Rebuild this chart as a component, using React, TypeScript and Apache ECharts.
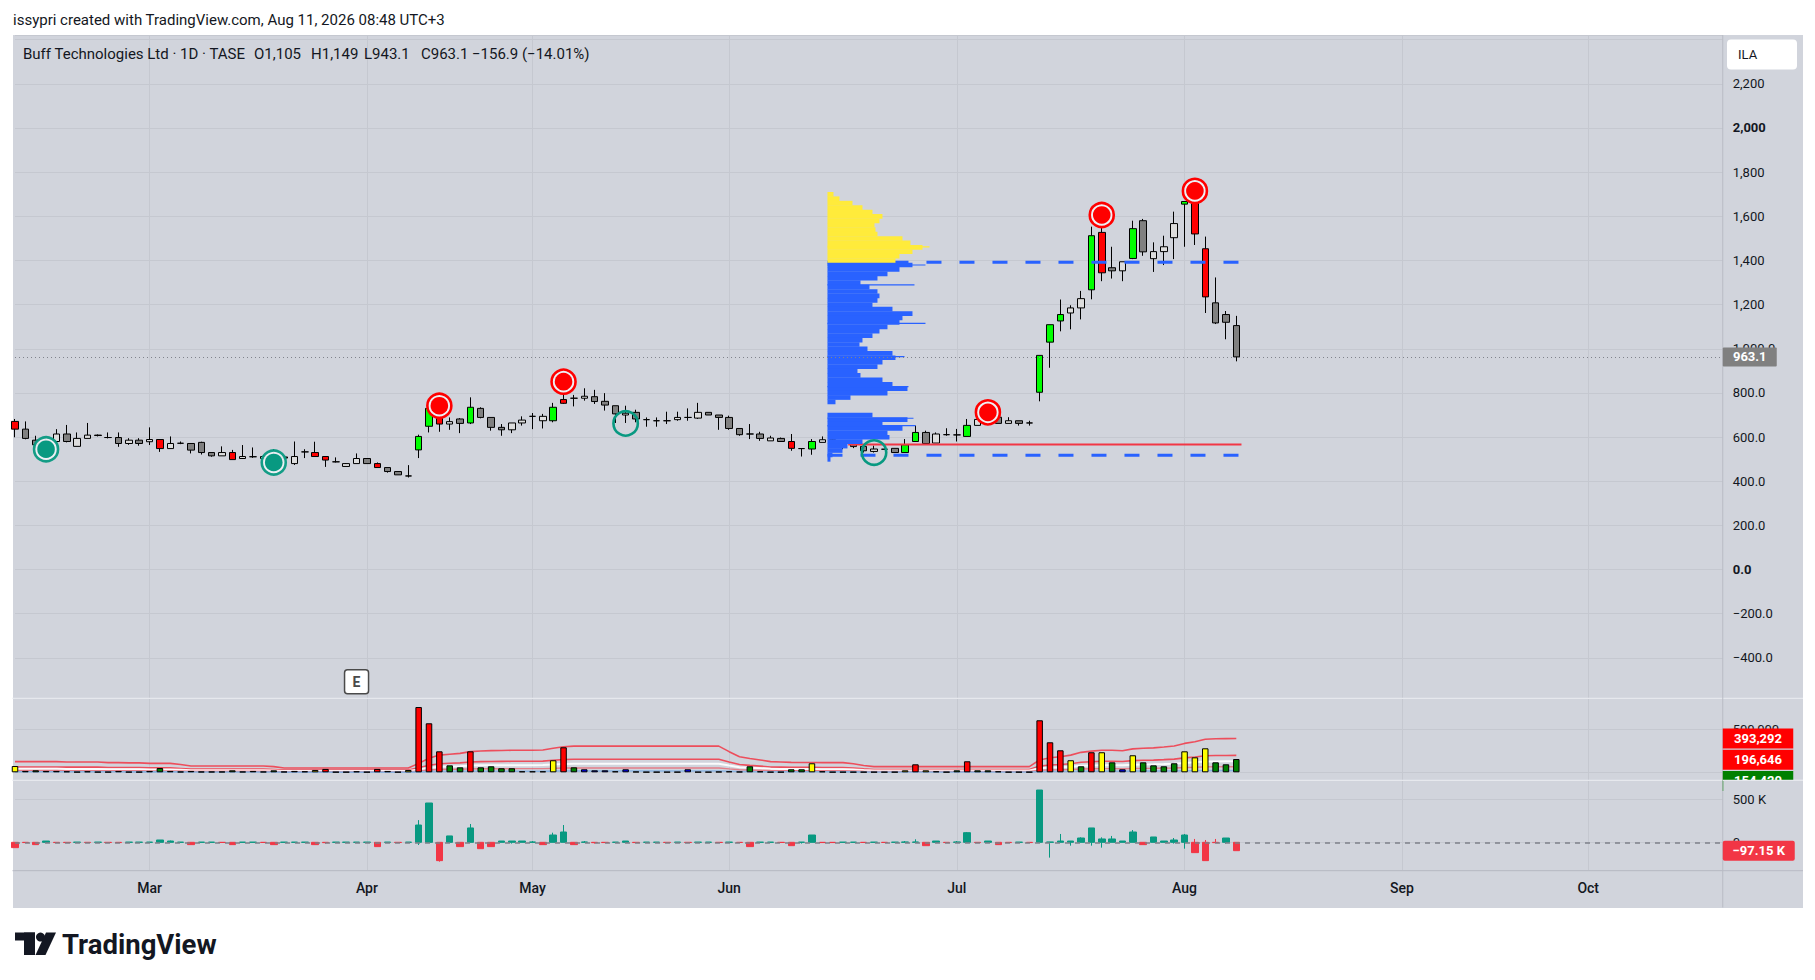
import React, { useEffect, useRef } from 'react';
import * as echarts from 'echarts';

// ---------------- DATA ----------------
const SLOT_COUNT = 166; // trading-day slots on the time axis (data + future space)
const categories = Array.from({ length: SLOT_COUNT }, (_, i) => String(i));
const monthTicks: [number, string][] = [
  [13, 'Mar'], [34, 'Apr'], [50, 'May'], [69, 'Jun'],
  [91, 'Jul'], [113, 'Aug'], [134, 'Sep'], [152, 'Oct'],
];

// daily candles [open, high, low, close]
const ohlc: number[][] = [
  [671, 682, 599, 636], [636, 671, 590, 594], [586, 606, 550, 565], [553, 598, 523, 583], [580, 636, 576, 614],
  [614, 655, 576, 580], [558, 621, 558, 594], [594, 664, 594, 609], [609, 612, 603, 607], [598, 621, 594, 598],
  [598, 621, 556, 571], [571, 595, 565, 586], [586, 595, 561, 571], [579, 644, 564, 589], [589, 589, 533, 548],
  [548, 603, 548, 571], [572, 580, 568, 572], [571, 571, 526, 541], [576, 579, 521, 530], [530, 530, 511, 515],
  [515, 558, 515, 530], [530, 542, 498, 498], [503, 564, 503, 512], [511, 553, 506, 511], [503, 518, 500, 512],
  [512, 545, 482, 500], [510, 512, 490, 505], [480, 580, 474, 512], [533, 545, 505, 533], [530, 579, 512, 512],
  [512, 512, 465, 496], [488, 508, 485, 488], [467, 482, 467, 480], [480, 526, 480, 503], [503, 503, 480, 480],
  [480, 485, 462, 462], [462, 462, 439, 444], [444, 444, 429, 429], [424, 473, 417, 424], [542, 611, 505, 603],
  [649, 742, 621, 730], [727, 765, 624, 659], [659, 689, 633, 670], [682, 686, 618, 662], [664, 780, 659, 735],
  [730, 735, 685, 689], [689, 689, 629, 644], [644, 659, 606, 633], [633, 664, 618, 664], [664, 694, 652, 677],
  [694, 709, 636, 694], [674, 705, 639, 694], [674, 755, 667, 735], [770, 810, 750, 753], [776, 791, 739, 776],
  [776, 821, 765, 785], [783, 814, 750, 761], [762, 799, 720, 745], [742, 742, 664, 705], [700, 742, 664, 708],
  [712, 724, 667, 682], [679, 689, 647, 679], [674, 689, 647, 674], [674, 715, 659, 674], [679, 715, 674, 689],
  [689, 730, 674, 689], [686, 755, 682, 712], [712, 712, 700, 700], [700, 700, 633, 689], [689, 697, 633, 639],
  [639, 639, 606, 611], [614, 659, 591, 614], [614, 624, 583, 594], [583, 606, 583, 596], [594, 598, 579, 580],
  [580, 614, 538, 549], [548, 550, 512, 548], [546, 591, 520, 580], [576, 603, 576, 588], [588, 598, 570, 580],
  [575, 580, 545, 555], [557, 576, 550, 564], [558, 560, 530, 538], [535, 561, 530, 546], [545, 548, 543, 545],
  [549, 549, 530, 530], [530, 591, 530, 565], [580, 652, 580, 621], [621, 629, 571, 571], [573, 621, 573, 614],
  [611, 640, 606, 611], [610, 637, 580, 610], [603, 682, 603, 653], [653, 705, 653, 680], [680, 725, 675, 700],
  [690, 690, 662, 662], [662, 690, 662, 674], [674, 674, 652, 662], [664, 674, 652, 664], [803, 970, 762, 970],
  [1030, 1109, 914, 1109], [1126, 1223, 1079, 1155], [1162, 1197, 1088, 1185], [1185, 1262, 1133, 1227], [1267, 1553, 1224, 1512],
  [1527, 1560, 1306, 1344], [1367, 1462, 1318, 1353], [1353, 1394, 1306, 1394], [1409, 1580, 1406, 1544], [1580, 1588, 1421, 1439],
  [1408, 1482, 1348, 1440], [1440, 1512, 1379, 1462], [1503, 1621, 1406, 1567], [1655, 1667, 1462, 1667], [1667, 1697, 1470, 1520],
  [1453, 1508, 1162, 1235], [1208, 1323, 1112, 1117], [1155, 1171, 1043, 1120], [1105, 1149, 943.1, 963.1],
];
// candle class: L = up, D = down, G = up on heavy volume, R = down on heavy volume
const candleClass: string[] = [
  'R', 'D', 'D', 'L', 'L', 'D', 'L', 'L', 'D', 'D',
  'D', 'L', 'D', 'L', 'R', 'L', 'D', 'D', 'D', 'D',
  'L', 'R', 'L', 'D', 'L', 'D', 'D', 'L', 'D', 'R',
  'R', 'D', 'L', 'L', 'D', 'R', 'D', 'D', 'D', 'G',
  'G', 'R', 'L', 'D', 'G', 'D', 'D', 'D', 'L', 'L',
  'D', 'L', 'G', 'R', 'D', 'L', 'D', 'D', 'D', 'L',
  'D', 'D', 'D', 'D', 'L', 'D', 'L', 'D', 'D', 'D',
  'D', 'D', 'D', 'L', 'D', 'R', 'D', 'G', 'L', 'D',
  'D', 'L', 'D', 'L', 'D', 'D', 'G', 'G', 'D', 'L',
  'D', 'D', 'G', 'L', 'L', 'D', 'L', 'D', 'D', 'G',
  'G', 'G', 'L', 'L', 'G', 'R', 'D', 'L', 'G', 'D',
  'L', 'L', 'L', 'G', 'R', 'R', 'D', 'D', 'D',
];

// volume in thousands, with heat class r/y/g/b/k
const volumeK: number[] = [
  73, 16, 23, 16, 16, 12, 5, 12, 5, 5,
  16, 5, 5, 16, 50, 16, 8, 16, 8, 8,
  8, 23, 8, 16, 8, 23, 8, 16, 12, 27,
  39, 4, 4, 12, 4, 39, 16, 4, 27, 759,
  570, 244, 81, 58, 244, 58, 70, 47, 47, 12,
  12, 12, 140, 291, 58, 35, 23, 23, 12, 35,
  8, 4, 4, 4, 4, 35, 4, 4, 8, 12,
  8, 70, 12, 4, 4, 35, 35, 105, 12, 4,
  4, 4, 4, 4, 4, 4, 23, 93, 23, 12,
  4, 23, 128, 23, 23, 12, 4, 4, 4, 605,
  349, 256, 140, 70, 233, 233, 116, 35, 198, 116,
  81, 70, 105, 244, 174, 279, 116, 93, 154.42,
];
const volumeClass: string[] = [
  'y', 'k', 'g', 'k', 'k', 'k', 'k', 'k', 'k', 'k',
  'k', 'k', 'k', 'k', 'g', 'k', 'k', 'k', 'k', 'k',
  'k', 'g', 'k', 'k', 'k', 'g', 'k', 'k', 'k', 'y',
  'r', 'k', 'k', 'k', 'k', 'r', 'k', 'k', 'y', 'r',
  'r', 'r', 'g', 'g', 'r', 'g', 'g', 'g', 'g', 'k',
  'k', 'k', 'y', 'r', 'g', 'b', 'b', 'b', 'k', 'b',
  'k', 'k', 'k', 'k', 'k', 'b', 'k', 'k', 'k', 'k',
  'k', 'g', 'k', 'k', 'k', 'g', 'g', 'y', 'k', 'k',
  'k', 'k', 'k', 'k', 'k', 'k', 'y', 'r', 'y', 'k',
  'k', 'g', 'r', 'g', 'g', 'k', 'k', 'k', 'k', 'r',
  'r', 'r', 'y', 'g', 'r', 'y', 'g', 'b', 'y', 'g',
  'g', 'g', 'g', 'y', 'y', 'y', 'g', 'g', 'g',
];
// volume moving average (thousands)
const volumeMAK: number[] = [
  62, 62, 62, 62, 62, 60, 60, 60, 60, 56,
  56, 55, 55, 52, 52, 52, 45, 37, 37, 37,
  37, 37, 37, 37, 37, 33, 25, 25, 25, 25,
  25, 25, 25, 25, 25, 25, 25, 25, 25, 52,
  82, 100, 105, 110, 120, 124, 126, 127, 128, 128,
  128, 130, 140, 149, 152, 152, 152, 152, 152, 152,
  152, 152, 152, 152, 152, 152, 152, 152, 152, 120,
  90, 80, 72, 62, 60, 58, 57, 57, 56, 56,
  56, 50, 40, 33, 33, 33, 33, 33, 33, 33,
  33, 33, 33, 33, 33, 33, 33, 33, 33, 72,
  85, 90, 100, 116, 123, 128, 128, 125, 136, 140,
  142, 147, 153, 168, 178, 192, 195, 196, 196.646,
];
const volumeBandMultipliers = [2, 1, 0.65, 0.33, 0.1];

// volume delta (thousands) and wick extremes [low, high] where they extend past the body
const deltaK: number[] = [
  -62, -3, -27, 15, -3, -3, 2, -2, 2, -2,
  -3, 2, 2, 2, 27, 15, 2, -27, 2, 2,
  -2, -27, 2, 2, -2, -27, 2, 2, 2, -27,
  -4, 2, 2, 2, 2, -50, 2, -2, 2, 201,
  457, -213, 74, -50, 167, -74, -50, 15, 15, 15,
  4, -27, 85, 120, -27, 4, -4, -3, 2, 15,
  -3, 2, 2, -2, 2, -2, 2, 2, -2, 2,
  -2, -50, 2, 2, -2, -39, 2, 85, -3, -3,
  2, 2, -2, 2, -2, 2, 4, 4, -39, 15,
  -3, 4, 112, -3, 15, -27, -3, 2, -3, 608,
  4, 15, 15, 50, 167, 39, 39, 15, 120, -27,
  62, 15, 27, 85, -120, -213, -4, 50, -97.15,
];
const deltaWickK: Record<number, [number, number]> = {
  15: [0, 20], 30: [-15, 0], 39: [-31, 258], 41: [-225, 0], 44: [0, 213], 48: [-15, 15], 50: [0, 15],
  52: [0, 112], 53: [0, 201], 55: [0, 15], 56: [-15, 0], 76: [-15, 2], 86: [0, 15], 87: [0, 35],
  91: [0, 15], 92: [0, 120], 100: [-178, 4], 101: [0, 97], 102: [-39, 15], 103: [0, 58], 104: [-39, 167],
  105: [-62, 58], 106: [0, 74], 108: [0, 143], 112: [-15, 50], 113: [-74, 97], 114: [0, 39], 115: [0, 27],
  116: [-4, 39], 117: [-15, 50],
};

// pivot markers [index, price]
const pivotHighs: number[][] = [[41, 742], [53, 851], [94, 712], [105, 1606], [114, 1715]];
const pivotLowsFilled: number[][] = [[3, 545], [25, 485]];
const pivotLowsHollow: number[][] = [[59, 662], [83, 530]];
const earningsIndex = 33;

// fixed-range volume profile: bins of 20 from top (low edge = 1690 - 20*i), relative volume
const profileTop = 1690;
const profileStep = 20;
const profileVolume: number[] = [
  6, 12, 25, 35, 45, 55, 52, 47, 48, 50,
  75, 83, 95, 85, 72, 68, 85, 72, 60, 50,
  33, 42, 50, 52, 50, 45, 65, 85, 75, 72,
  60, 52, 45, 35, 32, 40, 65, 68, 55, 50,
  30, 33, 55, 65, 80, 60, 23, 8, 0, 0,
  45, 80, 55, 75, 60, 62, 35, 20, 15, 5, 3,
];
const profileSpikes: number[][] = [[1462, 102], [1380, 98], [1290, 87], [1116, 98], [965, 77], [829, 81], [686, 86], [653, 88]];
const profileStartIndex = 78.5;
const profileEndIndex = 118.5;
const valueAreaHigh = 1392;
const valueAreaLow = 518;
const redLevel = 566;
const redLevelStart = 80.5;

// ---------------- STYLE ----------------
const FONT = 'Roboto, "Noto Sans", "DejaVu Sans", sans-serif';
const TEXT = '#131722';
const BG = '#d1d4dc';
const GRID_LINE = '#c5c8d0';
const SEP_LIGHT = '#e6e8ed';
const AXIS_SEP = '#b8bbc4';
const CANDLE_FILL: Record<string, string> = { L: '#dddddd', D: '#808080', G: '#00ff00', R: '#ff0000' };
const VOL_FILL: Record<string, string> = { r: '#ff0000', y: '#ffff00', g: '#008000', b: '#0000ff', k: '#000000' };
const TEAL = '#089981';
const DELTA_RED = '#f23645';
const PROFILE_BLUE = '#2962ff';
const PROFILE_YELLOW = '#ffeb3b';
const PIVOT_RED = '#ff0000';

const PLOT_LEFT = 15;
const PLOT_W = 1707.75;
const AXIS_X = PLOT_LEFT + PLOT_W;
const FRAME_RIGHT = 1803;
const MAIN_TOP = 35;
const MAIN_H = 663.3;
const VOL_TOP = MAIN_TOP + MAIN_H;
const VOL_H = 82;
const DELTA_TOP = VOL_TOP + VOL_H;
const DELTA_H = 90.4;
const TIME_TOP = DELTA_TOP + DELTA_H;
const FRAME_BOTTOM = 907.5;
const PRICE_MIN = -583;
const PRICE_MAX = 2421;

const monthMap = new Map<number, string>(monthTicks);
const MINUS = '\u2212';

const priceFmt = (v: number) => {
  if (v > 2300) return '';
  let s: string;
  if (Math.abs(v) > 1000) s = Math.abs(v).toLocaleString('en-US');
  else if (Math.abs(v) === 1000) s = '1,000.0';
  else s = Math.abs(v).toFixed(1);
  if (v < 0) s = MINUS + s;
  if (v === 2000 || v === 0) return '{b|' + s + '}';
  return s;
};

const fmtInt = (v: number) => Math.round(v).toLocaleString('en-US');

function buildOption(): any {
  const catAxis = (gridIndex: number, showLabels: boolean) => ({
    type: 'category',
    gridIndex,
    data: categories,
    boundaryGap: false,
    axisLine: { show: false },
    axisTick: { show: false },
    axisPointer: { show: false },
    axisLabel: showLabels
      ? {
          show: true,
          interval: (i: number) => monthMap.has(i),
          formatter: (v: string) => monthMap.get(Number(v)) ?? '',
          color: TEXT,
          fontSize: 14,
          fontWeight: 500,
          fontFamily: FONT,
          margin: 10,
        }
      : { show: false },
    splitLine: {
      show: true,
      interval: (i: number) => monthMap.has(i),
      lineStyle: { color: GRID_LINE, width: 1 },
    },
  });

  const candleData = ohlc.map(([o, h, l, c], i) => {
    const fill = CANDLE_FILL[candleClass[i]];
    return {
      value: [o, c, l, h],
      itemStyle: { color: fill, color0: fill, borderColor: '#000', borderColor0: '#000', borderColorDoji: '#000', borderWidth: 1 },
    };
  });

  const volumeData = volumeK.map((v, i) => ({
    value: v * 1000,
    itemStyle: { color: VOL_FILL[volumeClass[i]] },
  }));

  const deltaData = deltaK.map((d, i) => {
    const w = deltaWickK[i] ?? [0, 0];
    const lo = Math.min(0, d, w[0]) * 1000;
    const hi = Math.max(0, d, w[1]) * 1000;
    const col = d >= 0 ? TEAL : DELTA_RED;
    return {
      value: [0, d * 1000, lo, hi],
      itemStyle: { color: col, color0: col, borderColor: col, borderColor0: col, borderColorDoji: col, borderWidth: 1 },
    };
  });

  const bandStyles = [
    { color: 'rgba(242,54,69,0.85)', width: 1.6 },
    { color: 'rgba(242,54,69,0.85)', width: 1.6 },
    { color: 'rgba(255,255,255,0.9)', width: 2 },
    { color: 'rgba(242,54,69,0.55)', width: 1.4 },
    { color: 'rgba(130,175,225,0.9)', width: 1.6 },
  ];
  const bandSeries = volumeBandMultipliers.map((m, k) => ({
    type: 'line',
    xAxisIndex: 1,
    yAxisIndex: 1,
    data: volumeMAK.map((v) => v * 1000 * m),
    symbol: 'none',
    lineStyle: bandStyles[k],
    z: 1,
    silent: true,
  }));

  const profileData: number[][] = profileVolume.map((v, i) => {
    const low = profileTop - profileStep * i;
    return [low, low + profileStep, v];
  });
  profileSpikes.forEach(([p, v]) => profileData.push([p - 2, p + 2, v]));

  const pivotRender = (kind: string) => (params: any, api: any) => {
    const p = api.coord([api.value(0), api.value(1)]);
    if (kind === 'hollow') {
      return { type: 'circle', shape: { cx: p[0], cy: p[1], r: 12.2 }, style: { fill: 'none', stroke: TEAL, lineWidth: 2.6 } };
    }
    const col = kind === 'high' ? PIVOT_RED : TEAL;
    return {
      type: 'group',
      children: [
        { type: 'circle', shape: { cx: p[0], cy: p[1], r: 12 }, style: { fill: '#eef0f4', stroke: col, lineWidth: 2.6, opacity: kind === 'high' ? 1 : 0.95 } },
        { type: 'circle', shape: { cx: p[0], cy: p[1], r: 8.8 }, style: { fill: col } },
      ],
    };
  };

  return {
    animation: false,
    backgroundColor: 'transparent',
    textStyle: { fontFamily: FONT },
    grid: [
      { left: PLOT_LEFT, top: MAIN_TOP, width: PLOT_W, height: MAIN_H },
      { left: PLOT_LEFT, top: VOL_TOP, width: PLOT_W, height: VOL_H },
      { left: PLOT_LEFT, top: DELTA_TOP, width: PLOT_W, height: DELTA_H },
      { left: PLOT_LEFT, top: MAIN_TOP, width: PLOT_W, height: MAIN_H },
    ],
    xAxis: [
      catAxis(0, false),
      catAxis(1, false),
      catAxis(2, true),
      { type: 'value', gridIndex: 3, min: 0, max: SLOT_COUNT - 1, show: false },
    ],
    yAxis: [
      {
        type: 'value', gridIndex: 0, position: 'right', min: PRICE_MIN, max: PRICE_MAX,
        minInterval: 200, maxInterval: 200,
        axisLine: { show: false }, axisTick: { show: false },
        axisLabel: {
          show: true, margin: 10, color: TEXT, fontSize: 13, fontFamily: FONT,
          showMinLabel: false, showMaxLabel: false, formatter: priceFmt,
          rich: { b: { fontWeight: 'bold', fontSize: 13, color: TEXT, fontFamily: FONT } },
        },
        splitLine: { show: true, lineStyle: { color: GRID_LINE } },
      },
      {
        type: 'value', gridIndex: 1, position: 'right', min: -93000, max: 860500,
        minInterval: 500000, maxInterval: 500000,
        axisLine: { show: false }, axisTick: { show: false },
        axisLabel: {
          show: true, margin: 10, color: TEXT, fontSize: 13, fontFamily: FONT,
          showMinLabel: false, showMaxLabel: false,
          formatter: (v: number) => (v === 500000 ? '500,000' : ''),
        },
        splitLine: { show: true, lineStyle: { color: GRID_LINE } },
      },
      {
        type: 'value', gridIndex: 2, position: 'right', min: -330000, max: 721000,
        minInterval: 500000, maxInterval: 500000,
        axisLine: { show: false }, axisTick: { show: false },
        axisLabel: {
          show: true, margin: 10, color: TEXT, fontSize: 13, fontFamily: FONT,
          showMinLabel: false, showMaxLabel: false,
          formatter: (v: number) => (v === 500000 ? '500 K' : v === 0 ? '0' : ''),
        },
        splitLine: { show: true, lineStyle: { color: GRID_LINE } },
      },
      { type: 'value', gridIndex: 3, min: PRICE_MIN, max: PRICE_MAX, show: false },
    ],
    series: [
      {
        type: 'candlestick',
        name: 'price',
        xAxisIndex: 0,
        yAxisIndex: 0,
        barWidth: 7,
        data: candleData,
        z: 2,
        markLine: {
          silent: true,
          symbol: 'none',
          label: { show: false },
          lineStyle: { color: '#80838c', type: [1, 3], width: 1 },
          data: [{ yAxis: ohlc[ohlc.length - 1][3] }],
        },
      },
      {
        type: 'line', xAxisIndex: 3, yAxisIndex: 3, symbol: 'none', silent: true, z: 3,
        data: [[profileStartIndex, valueAreaHigh], [profileEndIndex, valueAreaHigh]],
        lineStyle: { color: PROFILE_BLUE, width: 3, type: [15, 18] },
      },
      {
        type: 'line', xAxisIndex: 3, yAxisIndex: 3, symbol: 'none', silent: true, z: 3,
        data: [[profileStartIndex, valueAreaLow], [profileEndIndex, valueAreaLow]],
        lineStyle: { color: PROFILE_BLUE, width: 3, type: [15, 18] },
      },
      {
        type: 'line', xAxisIndex: 3, yAxisIndex: 3, symbol: 'none', silent: true, z: 3,
        data: [[redLevelStart, redLevel], [profileEndIndex, redLevel]],
        lineStyle: { color: DELTA_RED, width: 2 },
      },
      {
        type: 'custom',
        xAxisIndex: 3,
        yAxisIndex: 3,
        z: 4,
        silent: true,
        data: profileData,
        encode: { y: [0, 1] },
        renderItem: (params: any, api: any) => {
          const low = api.value(0);
          const high = api.value(1);
          const vol = api.value(2);
          const pTop = api.coord([profileStartIndex, high]);
          const pBot = api.coord([profileStartIndex, low]);
          return {
            type: 'rect',
            shape: { x: pTop[0], y: pTop[1], width: vol, height: pBot[1] - pTop[1] + 0.3 },
            style: { fill: low >= valueAreaHigh - 2 ? PROFILE_YELLOW : PROFILE_BLUE },
          };
        },
      },
      { type: 'custom', xAxisIndex: 0, yAxisIndex: 0, z: 5, silent: true, data: pivotHighs, encode: { x: 0, y: 1 }, renderItem: pivotRender('high') },
      { type: 'custom', xAxisIndex: 0, yAxisIndex: 0, z: 5, silent: true, data: pivotLowsFilled, encode: { x: 0, y: 1 }, renderItem: pivotRender('low') },
      { type: 'custom', xAxisIndex: 0, yAxisIndex: 0, z: 5, silent: true, data: pivotLowsHollow, encode: { x: 0, y: 1 }, renderItem: pivotRender('hollow') },
      ...bandSeries,
      {
        type: 'bar',
        xAxisIndex: 1,
        yAxisIndex: 1,
        barWidth: 6.5,
        data: volumeData,
        itemStyle: { borderColor: '#000', borderWidth: 1 },
        z: 2,
        silent: true,
      },
      {
        type: 'candlestick',
        xAxisIndex: 2,
        yAxisIndex: 2,
        barWidth: 7,
        data: deltaData,
        z: 2,
        markLine: {
          silent: true,
          symbol: 'none',
          label: { show: false },
          lineStyle: { color: '#7d8089', type: [5, 5], width: 1.5 },
          data: [{ yAxis: 0 }],
        },
      },
    ],
  };
}

function buildGraphics(chart: any): any[] {
  const g: any[] = [];
  const Z = 50;
  const txt = (x: number, y: number, text: string, size: number, opts: any = {}) => ({
    type: 'text', x, y, z: Z,
    style: { text, fontSize: size, fontFamily: FONT, fill: TEXT, verticalAlign: 'middle', align: 'left', ...opts },
  });

  // frame separators
  g.push({ type: 'line', z: Z, shape: { x1: 12.5, y1: VOL_TOP, x2: FRAME_RIGHT, y2: VOL_TOP }, style: { stroke: SEP_LIGHT, lineWidth: 1.2 } });
  g.push({ type: 'line', z: Z, shape: { x1: 12.5, y1: DELTA_TOP, x2: FRAME_RIGHT, y2: DELTA_TOP }, style: { stroke: SEP_LIGHT, lineWidth: 1.2 } });
  g.push({ type: 'line', z: Z, shape: { x1: 12.5, y1: TIME_TOP, x2: FRAME_RIGHT, y2: TIME_TOP }, style: { stroke: AXIS_SEP, lineWidth: 1 } });
  g.push({ type: 'line', z: Z, shape: { x1: AXIS_X, y1: MAIN_TOP, x2: AXIS_X, y2: FRAME_BOTTOM }, style: { stroke: AXIS_SEP, lineWidth: 1 } });

  // header texts
  g.push(txt(13, 20, 'issypri created with TradingView.com, Aug 11, 2026 08:48 UTC+3', 15));
  const legendY = 53.5;
  g.push(txt(23, legendY, 'Buff Technologies Ltd \u00b7 1D \u00b7 TASE', 15));
  g.push(txt(254, legendY, 'O1,105', 15));
  g.push(txt(311, legendY, 'H1,149', 15));
  g.push(txt(364, legendY, 'L943.1', 15));
  g.push(txt(421, legendY, 'C963.1', 15));
  g.push(txt(472, legendY, MINUS + '156.9 (' + MINUS + '14.01%)', 15));

  // currency box
  g.push({ type: 'rect', z: Z, shape: { x: 1727, y: 39.5, width: 70, height: 30, r: 4 }, style: { fill: '#ffffff' } });
  g.push(txt(1738, 54.5, 'ILA', 13));

  // last price label
  const last = ohlc[ohlc.length - 1][3];
  const yLast = chart.convertToPixel({ yAxisIndex: 0 }, last);
  g.push({ type: 'rect', z: Z, shape: { x: AXIS_X, y: yLast - 9.5, width: 54, height: 19, r: 1 }, style: { fill: CANDLE_FILL.D } });
  g.push(txt(AXIS_X + 27, yLast, last.toFixed(1), 13, { fill: '#ffffff', align: 'center', fontWeight: 'bold' }));

  // volume labels (stacked to avoid overlap)
  const maLast = volumeMAK[volumeMAK.length - 1] * 1000;
  const volLabels = [
    { v: maLast * volumeBandMultipliers[0], fill: '#ff0000' },
    { v: maLast * volumeBandMultipliers[1], fill: '#ff0000' },
    { v: volumeK[volumeK.length - 1] * 1000, fill: VOL_FILL[volumeClass[volumeClass.length - 1]] },
  ].map((l) => ({ ...l, y: chart.convertToPixel({ yAxisIndex: 1 }, l.v) }));
  volLabels.sort((a, b) => a.y - b.y);
  let prevBottom = -1e9;
  let maxBottom = 0;
  volLabels.forEach((l) => {
    const top = Math.max(l.y - 10, prevBottom + 1.2);
    prevBottom = top + 20;
    maxBottom = Math.max(maxBottom, prevBottom);
    g.push({ type: 'rect', z: Z, shape: { x: AXIS_X, y: top, width: 70.5, height: 20 }, style: { fill: l.fill } });
    g.push(txt(AXIS_X + 35.25, top + 10, fmtInt(l.v), 13, { fill: '#ffffff', align: 'center', fontWeight: 'bold' }));
  });
  if (maxBottom > DELTA_TOP) {
    g.push({ type: 'rect', z: Z + 1, shape: { x: AXIS_X + 0.5, y: DELTA_TOP, width: FRAME_RIGHT - AXIS_X - 0.5, height: maxBottom - DELTA_TOP + 0.5 }, style: { fill: BG } });
    g.push({ type: 'line', z: Z + 2, shape: { x1: AXIS_X, y1: DELTA_TOP, x2: FRAME_RIGHT, y2: DELTA_TOP }, style: { stroke: SEP_LIGHT, lineWidth: 1.2 } });
  }

  // delta label
  const dLast = deltaK[deltaK.length - 1];
  const yDelta = chart.convertToPixel({ yAxisIndex: 2 }, dLast * 1000);
  g.push({ type: 'rect', z: Z, shape: { x: AXIS_X, y: yDelta - 10, width: 72, height: 20, r: 2 }, style: { fill: DELTA_RED } });
  g.push(txt(AXIS_X + 36, yDelta, MINUS + Math.abs(dLast).toFixed(2) + ' K', 13, { fill: '#ffffff', align: 'center', fontWeight: 'bold' }));

  // earnings marker
  const xE = chart.convertToPixel({ xAxisIndex: 0 }, earningsIndex);
  const yE = VOL_TOP - 16.6;
  g.push({ type: 'rect', z: Z, shape: { x: xE - 12, y: yE - 12, width: 24, height: 24, r: 3 }, style: { fill: '#ffffff', stroke: '#4a4a4a', lineWidth: 1.5 } });
  g.push(txt(xE, yE + 0.5, 'E', 14, { fill: '#4a4a4a', align: 'center', fontWeight: 'bold' }));

  // TradingView logo
  const ly = 932.5;
  g.push({ type: 'rect', z: Z, shape: { x: 15, y: ly, width: 20, height: 8 }, style: { fill: TEXT } });
  g.push({ type: 'rect', z: Z, shape: { x: 24, y: ly, width: 11, height: 22.5 }, style: { fill: TEXT } });
  g.push({ type: 'circle', z: Z, shape: { cx: 40.5, cy: ly + 4.6, r: 4.5 }, style: { fill: TEXT } });
  g.push({ type: 'polygon', z: Z, shape: { points: [[46, ly], [56, ly], [45.5, ly + 22.5], [35.5, ly + 22.5]] }, style: { fill: TEXT } });
  g.push(txt(62, ly + 11.5, 'TradingView', 27.5, { fontWeight: 'bold' }));

  return g;
}

export default function App() {
  const ref = useRef<HTMLDivElement>(null);
  useEffect(() => {
    const el = ref.current;
    if (!el) return;
    const chart = echarts.init(el, undefined, { renderer: 'svg' });
    chart.setOption(buildOption());
    chart.setOption({ graphic: { elements: buildGraphics(chart) } });
    return () => chart.dispose();
  }, []);
  return (
    <div style={{ position: 'absolute', left: 0, top: 0, width: 1815, height: 980, background: '#ffffff', overflow: 'hidden' }}>
      <div style={{ position: 'absolute', left: 12.5, top: 34.5, width: FRAME_RIGHT - 12.5, height: FRAME_BOTTOM - 34.5, background: BG }} />
      <div ref={ref} style={{ position: 'absolute', left: 0, top: 0, width: 1815, height: 980 }} />
    </div>
  );
}
